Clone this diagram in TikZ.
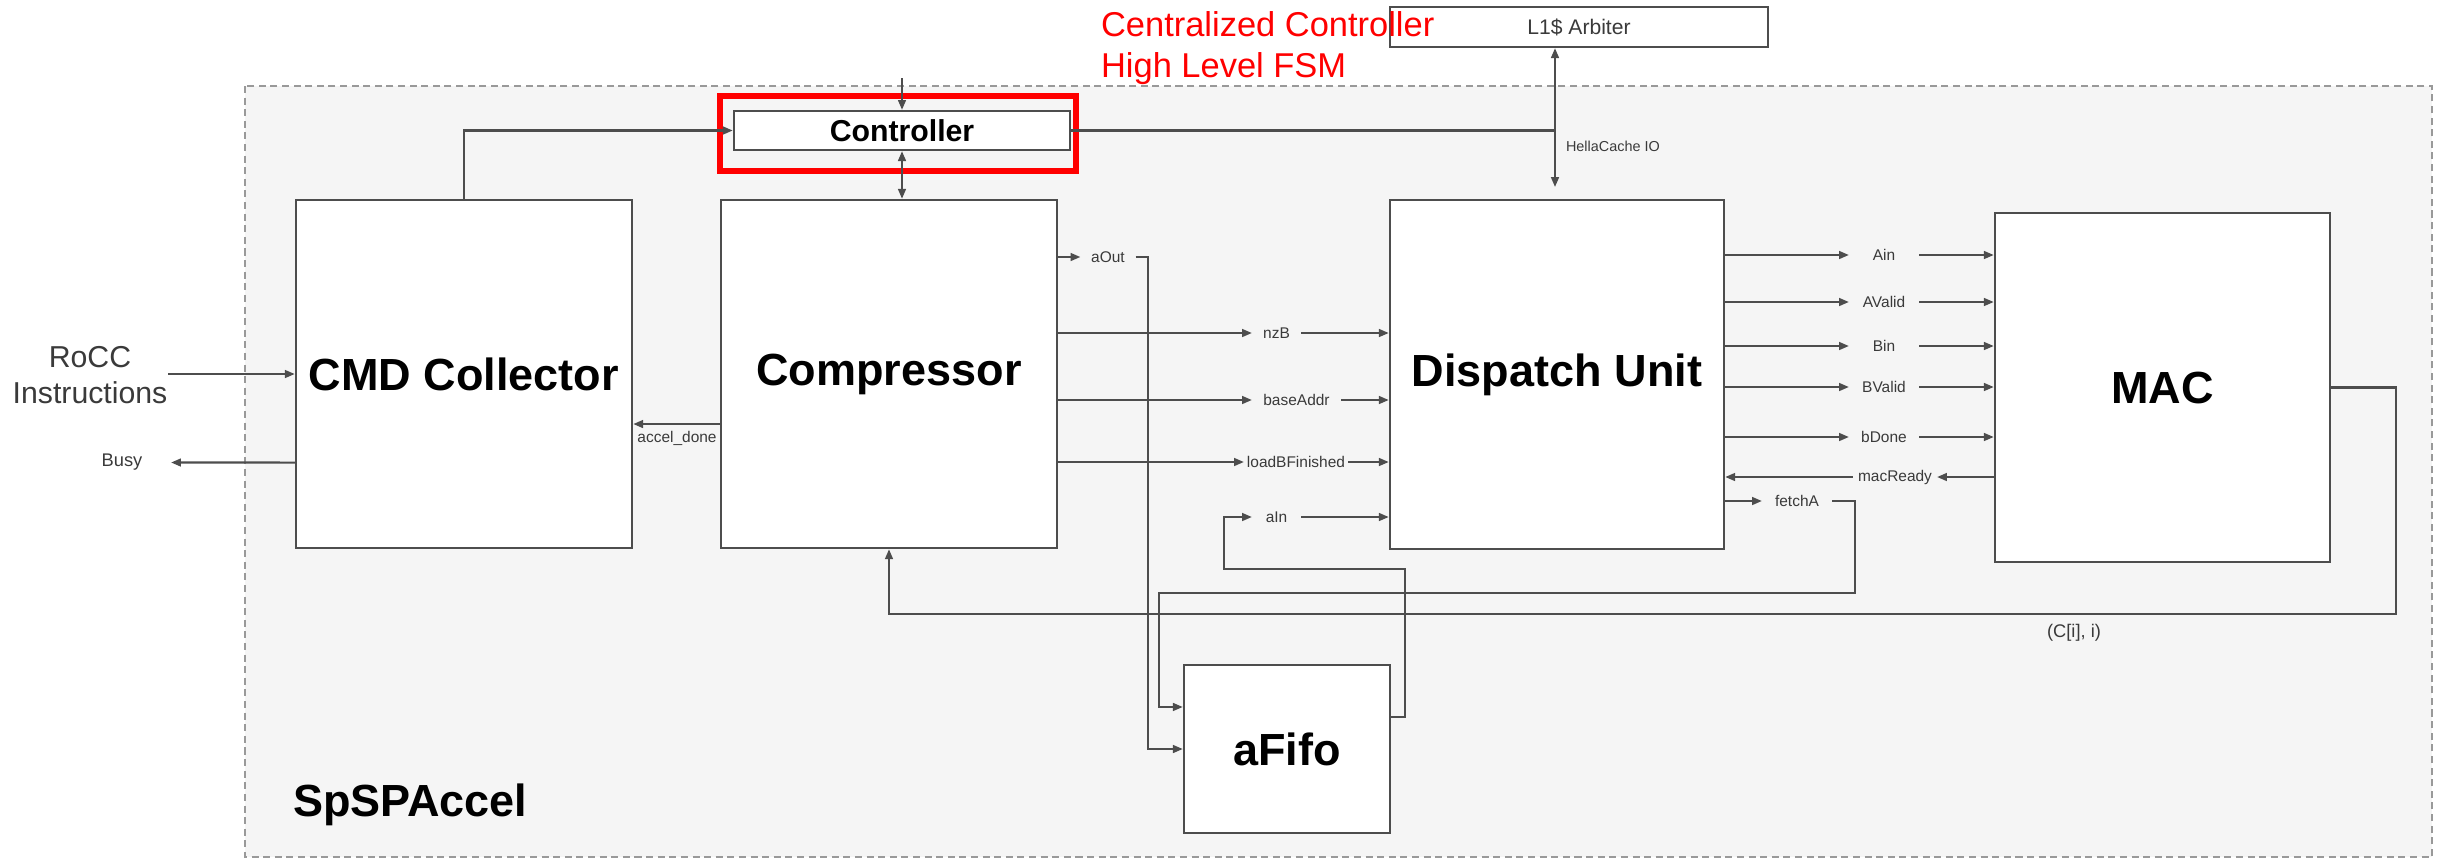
\documentclass[tikz,border=0pt]{standalone}
\usepackage{fontspec}
\setmainfont{Liberation Sans}
\usetikzlibrary{arrows.meta,calc}
\definecolor{ln}{HTML}{4D4D4D}
\definecolor{bg}{HTML}{F5F5F5}
\definecolor{lbl}{HTML}{3A3A3A}
\begin{document}
\begin{tikzpicture}[x=0.01cm,y=-0.01cm,
  line width=0.6pt,
  arr/.style={draw=ln, -{Triangle[length=2.8pt,width=2.2pt]}},
  darr/.style={draw=ln, {Triangle[length=2.8pt,width=2.2pt]}-{Triangle[length=2.8pt,width=2.2pt]}},
  wire/.style={draw=ln},
  blk/.style={draw=ln, fill=white, line width=0.65pt, inner sep=0pt, font=\fontsize{12.8}{14}\selectfont\bfseries},
  sig/.style={inner sep=0pt, text=lbl, font=\fontsize{4.4}{5}\selectfont, minimum height=0.1cm},
]
\useasboundingbox (0,0) rectangle (2447,860);
\path[fill=bg, draw=gray!80, dash pattern=on 2pt off 1.3pt, line width=0.5pt] (245,86) rectangle (2432,857);

% blocks
\node[blk, minimum width=3.36cm, minimum height=3.48cm] (CMD) at (464,374) {CMD Collector};
\node[blk, minimum width=3.36cm, minimum height=3.48cm] (Comp) at (889,374) {Compressor};
\node[blk, minimum width=3.34cm, minimum height=3.49cm] (Disp) at (1557,374.5) {Dispatch Unit};
\node[blk, minimum width=3.35cm, minimum height=3.49cm] (MAC) at (2162.5,387.5) {MAC};
\node[blk, minimum width=2.06cm, minimum height=1.68cm] (aFifo) at (1287,749) {aFifo};
\node[blk, minimum width=3.36cm, minimum height=0.39cm, font=\fontsize{8.6}{9}\selectfont\bfseries] (Ctrl) at (902,130.5) {Controller};
\node[blk, minimum width=3.78cm, minimum height=0.40cm, font=\fontsize{6}{7}\selectfont, text=lbl] (L1) at (1579,27) {L1\$ Arbiter};
\node[draw=red, line width=1.7pt, minimum width=3.56cm, minimum height=0.75cm, inner sep=0pt] (hl) at (898,133.5) {};

% texts
\node[font=\fontsize{9.8}{11}\selectfont, text=red, anchor=base west, inner sep=0pt] (t1) at (1100,36) {Centralized Controller};
\node[font=\fontsize{9.8}{11}\selectfont, text=red, anchor=base west, inner sep=0pt] (t2) at (1100,77) {High Level FSM};
\node[font=\fontsize{12.8}{14}\selectfont\bfseries, anchor=base west, inner sep=0pt] (accname) at (292,816) {SpSPAccel};
\node[align=center, inner sep=0pt, text=lbl, font=\fontsize{8.6}{10.2}\selectfont] (rocc) at (90,375) {RoCC\\Instructions};

% signal labels
\node[sig, minimum width=0.53cm] (aOutL) at (1108,257) {aOut};
\node[sig, minimum width=0.47cm] (nzBL) at (1276.5,333) {nzB};
\node[sig, minimum width=0.87cm] (baL) at (1296.5,400) {baseAddr};
\node[sig, minimum width=1.02cm] (lbL) at (1296,462) {loadBFinished};
\node[sig, minimum width=0.47cm] (aInL) at (1276.5,517) {aIn};
\node[sig, minimum width=0.68cm] (AinL) at (1884,255) {Ain};
\node[sig, minimum width=0.68cm] (AvL) at (1884,302) {AValid};
\node[sig, minimum width=0.68cm] (BinL) at (1884,346) {Bin};
\node[sig, minimum width=0.68cm] (BvL) at (1884,387) {BValid};
\node[sig, minimum width=0.68cm] (bdL) at (1884,437) {bDone};
\node[sig, minimum width=0.82cm] (mrL) at (1895,477) {macReady};
\node[sig, minimum width=0.68cm] (faL) at (1797,501) {fetchA};
\node[sig, anchor=west, font=\fontsize{4.1}{5}\selectfont] (hcL) at (1565,146) {HellaCache IO};
\node[sig, anchor=north] (adL) at (677,430) {accel\_done};
\node[sig, minimum width=0.96cm, font=\fontsize{5.2}{6}\selectfont] (busyL) at (122,462.5) {Busy};
\node[sig, font=\fontsize{5.2}{6}\selectfont] (ciL) at (2074,633) {(C[i], i)};

% coordinates
\coordinate (ctop) at (902,78);
\coordinate (hj) at (1555,130.5);
\coordinate (hend) at (1555,187);

% connectors
\draw[arr] (rocc.east |- CMD.west) -- (CMD.west);
\draw[arr] ([yshift=-0.885cm]CMD.west) -- (busyL.east);
\draw[arr] ([yshift=-0.5cm]Comp.west) -- ([yshift=-0.5cm]CMD.east);
\draw[arr] (CMD.north) |- (Ctrl.west);
\draw[arr] (ctop) -- (Ctrl.north);
\draw[darr] (Ctrl.south) -- (Ctrl.south |- Comp.north);
\draw[wire] (Ctrl.east) -- (hj);
\draw[darr] (L1.south -| hj) -- (hend);

\draw[arr] (Comp.east |- aOutL) -- (aOutL.west);
\draw[arr] (aOutL.east) -| ($(aFifo.west)+(-35,0)$) -- (aFifo.west);
\foreach \L in {nzBL,baL,lbL}{
  \draw[arr] (Comp.east |- \L) -- (\L.west);
  \draw[arr] (\L.east) -- (Disp.west |- \L);
}
\draw[arr] (aInL.east) -- (Disp.west |- aInL);
\draw[arr] ([yshift=0.32cm]aFifo.east) -- ++(14,0) |- (1224,569) |- (aInL.west);

\foreach \L in {AinL,AvL,BinL,BvL,bdL}{
  \draw[arr] (Disp.east |- \L) -- (\L.west);
  \draw[arr] (\L.east) -- (MAC.west |- \L);
}
\draw[arr] (MAC.west |- mrL) -- (mrL.east);
\draw[arr] (mrL.west) -- (Disp.east |- mrL);
\draw[arr] (Disp.east |- faL) -- (faL.west);
\draw[arr] (faL.east) -- ++(23,0) |- (1159,593) |- ([yshift=0.42cm]aFifo.west);
\draw[arr] (MAC.east) -- ++(65,0) |- ($(Comp.south)+(0,65)$) -- (Comp.south);
\end{tikzpicture}
\end{document}
